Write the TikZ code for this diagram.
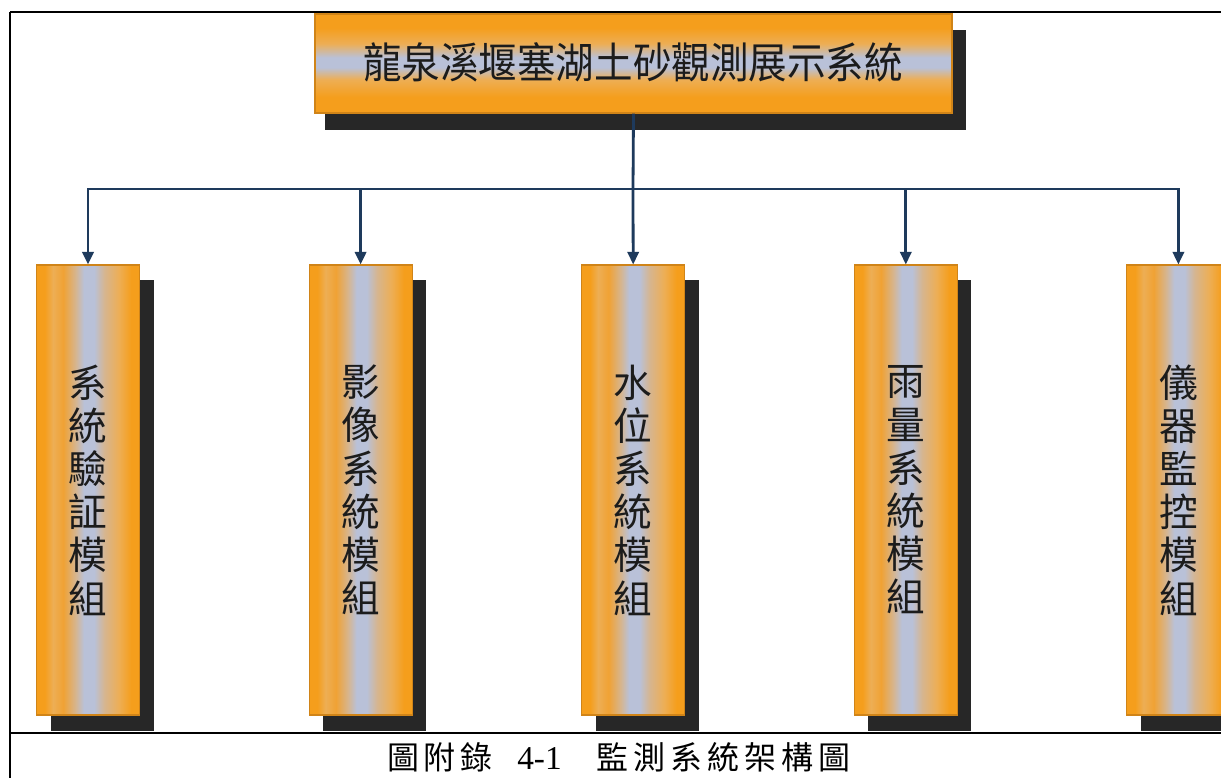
\documentclass[tikz,border=0pt]{standalone}
\usepackage{graphicx}
\usepackage{fontspec}
\setmainfont{Liberation Serif}
\newfontfamily\cjk{Noto Sans CJK TC}
\newfontfamily\capA{Noto Sans CJK TC}[LetterSpace=14]
\newfontfamily\capB{Noto Sans CJK TC}[LetterSpace=16]
\usetikzlibrary{arrows.meta,calc}
\definecolor{org}{HTML}{F59E1C}
\definecolor{orgl}{HTML}{EDAE55}
\definecolor{orgm}{HTML}{F0A234}
\definecolor{tanc}{HTML}{D6B58F}
\definecolor{blu}{HTML}{B9C1D8}
\definecolor{shd}{HTML}{272727}
\definecolor{lnk}{HTML}{1E3A5C}
\definecolor{edgec}{HTML}{D08418}
\definecolor{txt}{HTML}{1C1C1C}
\pgfdeclarehorizontalshading{colshade}{100bp}{color(0bp)=(org); color(25bp)=(org); color(29bp)=(org); color(33bp)=(orgl); color(38bp)=(orgm); color(44bp)=(tanc); color(48bp)=(blu); color(53bp)=(blu); color(58bp)=(tanc); color(65bp)=(orgl); color(71bp)=(org); color(75bp)=(org); color(100bp)=(org)}
\pgfdeclareverticalshading{topshade}{100bp}{color(0bp)=(org); color(25bp)=(org); color(33bp)=(org); color(42bp)=(orgl); color(48bp)=(blu); color(53bp)=(blu); color(60bp)=(orgl); color(68bp)=(org); color(75bp)=(org); color(100bp)=(org)}
\begin{document}
\begin{tikzpicture}[x=0.75pt,y=-0.75pt,
  frame/.style={line width=2.2pt,black},
  link/.style={line width=2.1pt,lnk},
  arr/.style={link,-{Triangle[length=9.5pt,width=8.5pt]}},
  topbox/.style={shade,shading=topshade,draw=edgec,line width=0.8pt,minimum width=477.75pt,minimum height=74.25pt,inner sep=0pt},
  modbox/.style={shade,shading=colshade,draw=edgec,line width=0.8pt,minimum width=77.25pt,minimum height=337.5pt,inner sep=0pt,
    text=txt,align=center,font={\cjk\fontsize{29pt}{32.4pt}\selectfont}},
  shadowc/.style={fill=shd}]
\useasboundingbox (0,0) rectangle (1221,778);
\fill[white] (0,0) rectangle (1221,778);

\coordinate (bus) at (633,189);

% frame
\draw[frame] (10,12) -- (1221,12);
\draw[frame] (10,12) -- (10,778);
\draw[frame] (10,733) -- (1221,733);

% top box
\fill[shadowc] (325,30) rectangle (966,130);
\node[topbox] (top) at (633.5,63.5) {};
\node[text=txt,font={\cjk\fontsize{28.9pt}{30pt}\selectfont}] (toptext) at (633,62) {\scalebox{1}[1.1]{龍泉溪堰塞湖土砂觀測展示系統}};

\draw[link] (top.south) -- (bus);

% module boxes
\foreach \i/\x/\t in {1/88/{系\\統\\驗\\証\\模\\組},2/360.6/{影\\像\\系\\統\\模\\組},3/633.2/{水\\位\\系\\統\\模\\組},4/905.8/{雨\\量\\系\\統\\模\\組},5/1178.4/{儀\\器\\監\\控\\模\\組}}{
  \fill[shadowc] (\x-37.5,280) rectangle (\x+65.5,731);
  \node[modbox] (m\i) at (\x,490) {\t};
}

% arrows
\draw[arr] (bus) -| (m1.north);
\draw[arr] (bus) -| (m2.north);
\draw[arr] (bus) -- (m3.north);
\draw[arr] (bus) -| (m4.north);
\draw[arr] (bus) -| (m5.north);

% caption
\node[anchor=west,inner sep=0pt,font={\capA\fontsize{24pt}{26pt}\selectfont}] (cap1) at (387,757) {圖附錄};
\node[anchor=west,inner sep=0pt,font={\fontsize{25pt}{27pt}\selectfont}] (cap2) at (517,758) {4-1};
\node[anchor=west,inner sep=0pt,font={\capB\fontsize{24pt}{26pt}\selectfont}] (cap3) at (596,757) {監測系統架構圖};
\end{tikzpicture}
\end{document}
